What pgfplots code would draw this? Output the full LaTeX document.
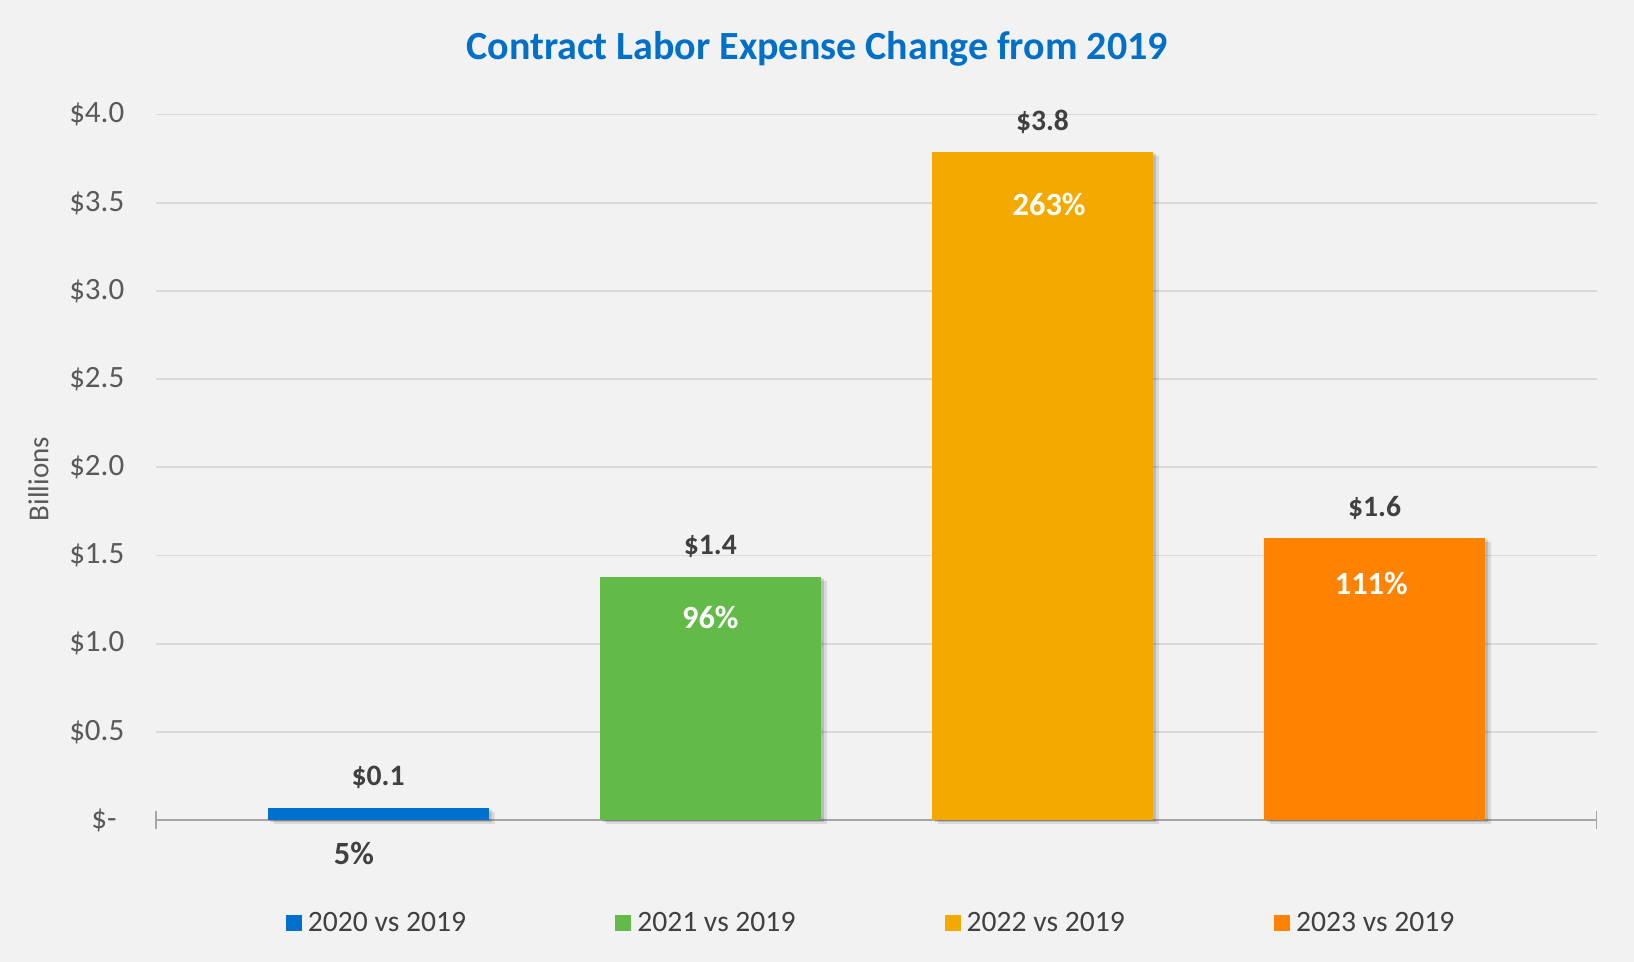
\documentclass[border=0pt]{standalone}
\usepackage{pgfplots}
\pgfplotsset{compat=1.18}
\usepackage{fontspec}
\setmainfont{Carlito}
\definecolor{bgc}{HTML}{F2F2F2}
\definecolor{c1}{HTML}{0070CE}
\definecolor{c2}{HTML}{62BB46}
\definecolor{c3}{HTML}{F3A900}
\definecolor{c4}{HTML}{FF8200}
\definecolor{titlec}{HTML}{0070C9}
\definecolor{txt}{HTML}{404040}
\definecolor{tickc}{HTML}{595959}
\definecolor{gridc}{HTML}{D9D9D9}
\definecolor{axl}{HTML}{A6A6A6}
\begin{document}
\begin{tikzpicture}
\fill[bgc] (-78.15pt,-71pt) rectangle (738.85pt,410pt);
\begin{axis}[
  at={(0,0)}, anchor=south west,
  scale only axis, width=720.1pt, height=352.7pt,
  xmin=-0.668, xmax=3.668, ymin=0, ymax=4,
  clip=false,
  axis x line*=bottom, axis y line*=left,
  x axis line style={draw=axl, line width=0.8pt, -},
  y axis line style={draw=none, -},
  ytick={0,0.5,1,1.5,2,2.5,3,3.5,4},
  yticklabels={\$-\rule{3.8pt}{0pt},\$0.5,\$1.0,\$1.5,\$2.0,\$2.5,\$3.0,\$3.5,\$4.0},
  yticklabel style={font=\fontsize{15.5}{18}\selectfont, text=tickc, anchor=east, xshift=-8pt},
  ymajorgrids, grid style={draw=gridc, line width=0.9pt},
  ytick style={draw=none},
  xtick={-0.668,3.668}, xticklabels={,},
  xtick style={draw=axl, line width=0.8pt},
  tick align=center, major tick length=9pt,
  title={Contract Labor Expense Change from 2019},
  title style={at={(axis description cs:0.4588,1)}, anchor=center, yshift=26.8pt, font=\bfseries\fontsize{20}{24}\selectfont, text=titlec},
  ylabel={Billions},
  every axis y label/.style={at={(axis description cs:-0.0818,0.4834)}, anchor=center, rotate=90, font=\fontsize{14.5}{17}\selectfont, text=tickc},
  legend style={at={(axis description cs:0.4977,0)}, anchor=center, yshift=-51.5pt, draw=none, fill=none, legend columns=4, font=\fontsize{14.8}{17}\selectfont, text=txt, nodes={inner sep=3pt}, /tikz/column sep=0pt},
  legend cell align=left,
  vlab/.style={nodes near coords, point meta=explicit symbolic, nodes near coords style={anchor=center, yshift=15pt, font=\bfseries\fontsize{14.8}{17}\selectfont, text=txt}},
]
% soft shadows behind the bars
\addplot[ybar, bar width=0.665, bar shift=0pt, fill=black, opacity=0.10, draw=none, forget plot,
  transform canvas={xshift=3pt, yshift=-2pt}]
  coordinates {(0,0.07) (1,1.38) (2,3.79) (3,1.60)};
\addplot[ybar, bar width=0.665, bar shift=0pt, fill=black, opacity=0.14, draw=none, forget plot,
  transform canvas={xshift=1.5pt, yshift=-1pt}]
  coordinates {(0,0.07) (1,1.38) (2,3.79) (3,1.60)};
\addplot[ybar, bar width=0.665, bar shift=0pt, fill=c1, draw=none, vlab,
  legend image code/.code={\fill[c1] (0pt,-4pt) rectangle (8pt,4pt);}]
  coordinates {(0,0.07) [\$0.1]};
\addlegendentry{\makebox[150.7pt][l]{2020 vs 2019}}
\addplot[ybar, bar width=0.665, bar shift=0pt, fill=c2, draw=none, vlab,
  legend image code/.code={\fill[c2] (0pt,-4pt) rectangle (8pt,4pt);}]
  coordinates {(1,1.38) [\$1.4]};
\addlegendentry{\makebox[150.7pt][l]{2021 vs 2019}}
\addplot[ybar, bar width=0.665, bar shift=0pt, fill=c3, draw=none, vlab,
  legend image code/.code={\fill[c3] (0pt,-4pt) rectangle (8pt,4pt);}]
  coordinates {(2,3.79) [\$3.8]};
\addlegendentry{\makebox[150.7pt][l]{2022 vs 2019}}
\addplot[ybar, bar width=0.665, bar shift=0pt, fill=c4, draw=none, vlab,
  legend image code/.code={\fill[c4] (0pt,-4pt) rectangle (8pt,4pt);}]
  coordinates {(3,1.60) [\$1.6]};
\addlegendentry{2023 vs 2019}
\addplot[draw=none, mark=none, forget plot, nodes near coords, point meta=explicit symbolic,
  nodes near coords style={anchor=center, text=white, font=\bfseries\fontsize{16.2}{19}\selectfont}]
  coordinates {(1,1.151)[96\%] (2.02,3.493)[263\%] (2.99,1.341)[111\%]};
\addplot[draw=none, mark=none, forget plot, nodes near coords, point meta=explicit symbolic,
  nodes near coords style={anchor=center, text=txt, font=\bfseries\fontsize{16.2}{19}\selectfont}]
  coordinates {(-0.073,-0.187)[5\%]};
\end{axis}
\pgfresetboundingbox
\useasboundingbox (-78.15pt,-71pt) rectangle (738.85pt,410pt);
\end{tikzpicture}
\end{document}
